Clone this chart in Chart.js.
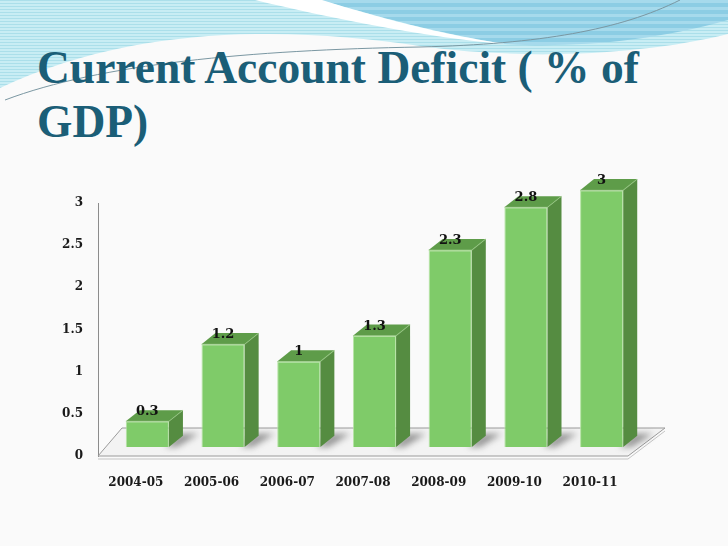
<!DOCTYPE html>
<html>
<head>
<meta charset="utf-8">
<script src="https://cdn.jsdelivr.net/npm/chart.js@4"></script>
<style>
  html, body { margin: 0; padding: 0; background: #fafafa; }
  #slide { position: relative; width: 728px; height: 546px; overflow: hidden; }
  #deco { position: absolute; left: 0; top: 0; }
  #title {
    position: absolute; left: 37px; top: 41px;
    font: bold 45.5px/54px "Liberation Serif", "Times New Roman", serif;
    color: #1b5e77; margin: 0;
  }
  #box { position: absolute; left: 0; top: 0; width: 728px; height: 546px; }
</style>
</head>
<body>
<div id="slide">
  <svg id="deco" width="728" height="546">
    <defs>
      <pattern id="stripes" width="4" height="3" patternUnits="userSpaceOnUse">
        <rect width="4" height="3" fill="#c8edf4"/>
        <rect width="4" height="1" fill="#abdfea"/>
      </pattern>
      <pattern id="stripes2" width="4" height="7" patternUnits="userSpaceOnUse">
        <rect width="4" height="7" fill="#8ccde4"/>
        <rect width="4" height="3" fill="#a6daec"/>
      </pattern>
    </defs>
    <path d="M0,0 H728 V34 C640,56 520,60 420,46 C300,28 140,22 0,88 Z" fill="url(#stripes)"/>
    <path d="M320,0 H728 V20 C650,42 570,48 505,44 C430,32 370,14 320,0 Z" fill="url(#stripes2)"/>
    <path d="M255,0 H322 C380,18 440,34 505,44 C430,38 330,18 255,0 Z" fill="#ffffff"/>
    <path d="M5,100 C100,64 250,50 420,47 C540,44 620,30 680,0" stroke="#7a97a2" stroke-width="1" fill="none"/>
  </svg>
  <div id="title">Current Account Deficit ( % of<br>GDP)</div>
  <div id="box"><canvas id="chart"></canvas></div>
</div>
<script>
const categories = ['2004-05', '2005-06', '2006-07', '2007-08', '2008-09', '2009-10', '2010-11'];
const deficit = [0.3, 1.2, 1, 1.3, 2.3, 2.8, 3];
const yTicks = [0, 0.5, 1, 1.5, 2, 2.5, 3];

const frontColor = '#7fcb69';
const topColor = '#5e9c49';
const sideColor = '#558c41';

// bars sit a little behind the floor's front edge
const shiftX = 11.5, shiftY = -9, stretch = 1.015;
const depthX = 14, depthY = -11;

const bars3d = {
    id: 'bars3d',
    beforeDatasetsDraw(chart) {
        const ctx = chart.ctx;
        const area = chart.chartArea;
        const b = area.bottom;
        // floor
        ctx.save();
        ctx.beginPath();
        ctx.moveTo(area.left, b);
        ctx.lineTo(area.right, b);
        ctx.lineTo(area.right + 37, b - 28);
        ctx.lineTo(area.left + 24, b - 28);
        ctx.closePath();
        ctx.fillStyle = '#f3f3f3';
        ctx.fill();
        ctx.strokeStyle = '#9a9a9a';
        ctx.lineWidth = 1;
        ctx.stroke();
        ctx.beginPath();
        ctx.moveTo(area.left, b + 3);
        ctx.lineTo(area.right, b + 3);
        ctx.lineTo(area.right + 37, b - 25);
        ctx.strokeStyle = '#c4c4c4';
        ctx.stroke();
        ctx.restore();

        ctx.save();
        ctx.translate(shiftX, b + shiftY);
        ctx.scale(1, stretch);
        ctx.translate(0, -b);
        // soft shadows behind the bars
        const meta = chart.getDatasetMeta(0);
        ctx.save();
        ctx.filter = 'blur(3px)';
        ctx.fillStyle = 'rgba(70,70,70,0.55)';
        meta.data.forEach(bar => {
            const p = bar.getProps(['x', 'y', 'base', 'width']);
            const x2 = p.x + p.width / 2;
            ctx.beginPath();
            ctx.moveTo(x2 - 4, p.base);
            ctx.lineTo(x2 + 8, p.base);
            ctx.lineTo(x2 + depthX + 16, p.base + depthY - 2);
            ctx.lineTo(x2 + depthX - 2, p.base + depthY - 2);
            ctx.closePath();
            ctx.fill();
        });
        ctx.restore();
    },
    afterDatasetsDraw(chart) {
        const ctx = chart.ctx;
        const b = chart.chartArea.bottom;
        const meta = chart.getDatasetMeta(0);
        meta.data.forEach(bar => {
            const p = bar.getProps(['x', 'y', 'base', 'width']);
            const x1 = p.x - p.width / 2, x2 = p.x + p.width / 2;
            // top face
            ctx.beginPath();
            ctx.moveTo(x1, p.y);
            ctx.lineTo(x2, p.y);
            ctx.lineTo(x2 + depthX, p.y + depthY);
            ctx.lineTo(x1 + depthX, p.y + depthY);
            ctx.closePath();
            ctx.fillStyle = topColor;
            ctx.fill();
            // side face
            ctx.beginPath();
            ctx.moveTo(x2, p.y);
            ctx.lineTo(x2 + depthX, p.y + depthY);
            ctx.lineTo(x2 + depthX, p.base + depthY);
            ctx.lineTo(x2, p.base);
            ctx.closePath();
            ctx.fillStyle = sideColor;
            ctx.fill();
            ctx.strokeStyle = 'rgba(160,210,140,0.6)';
            ctx.lineWidth = 1;
            ctx.beginPath();
            ctx.moveTo(x1, p.y);
            ctx.lineTo(x2, p.y);
            ctx.lineTo(x2 + depthX, p.y + depthY);
            ctx.stroke();
        });
        ctx.restore();

        // value labels
        ctx.save();
        ctx.font = 'bold 13px "DejaVu Serif", serif';
        ctx.fillStyle = '#111';
        ctx.textAlign = 'center';
        ctx.textBaseline = 'alphabetic';
        meta.data.forEach((bar, i) => {
            const p = bar.getProps(['x', 'y']);
            const y = b + shiftY - (b - p.y) * stretch;
            ctx.fillText(String(deficit[i]), p.x + shiftX, y - 6);
        });
        ctx.restore();
    }
};

new Chart(document.getElementById('chart'), {
    type: 'bar',
    data: {
        labels: categories,
        datasets: [{
            data: deficit,
            backgroundColor: frontColor,
            borderColor: 'rgba(175,225,155,0.9)',
            borderWidth: 1,
            categoryPercentage: 1,
            barPercentage: 0.57,
            clip: false
        }]
    },
    options: {
        responsive: true,
        maintainAspectRatio: false,
        animation: false,
        layout: { padding: { left: 58, right: 100, top: 203, bottom: 50 } },
        plugins: {
            legend: { display: false },
            tooltip: { enabled: false }
        },
        scales: {
            x: {
                grid: { display: false, drawTicks: false },
                border: { display: false },
                ticks: {
                    padding: 20,
                    color: '#1a1a1a',
                    font: { family: '"DejaVu Serif", serif', size: 12, weight: 'bold' }
                },
                afterFit(scale) { scale.height = 40; }
            },
            y: {
                min: 0,
                max: 3,
                afterBuildTicks(scale) { scale.ticks = yTicks.map(v => ({ value: v })); },
                grid: { display: false, drawTicks: false },
                border: { display: true, color: '#8c8c8c', width: 1 },
                ticks: {
                    padding: 15,
                    color: '#1a1a1a',
                    font: { family: '"DejaVu Serif", serif', size: 12, weight: 'bold' },
                    callback: v => String(v)
                },
                afterFit(scale) { scale.width = 40; }
            }
        }
    },
    plugins: [bars3d]
});
</script>
</body>
</html>
